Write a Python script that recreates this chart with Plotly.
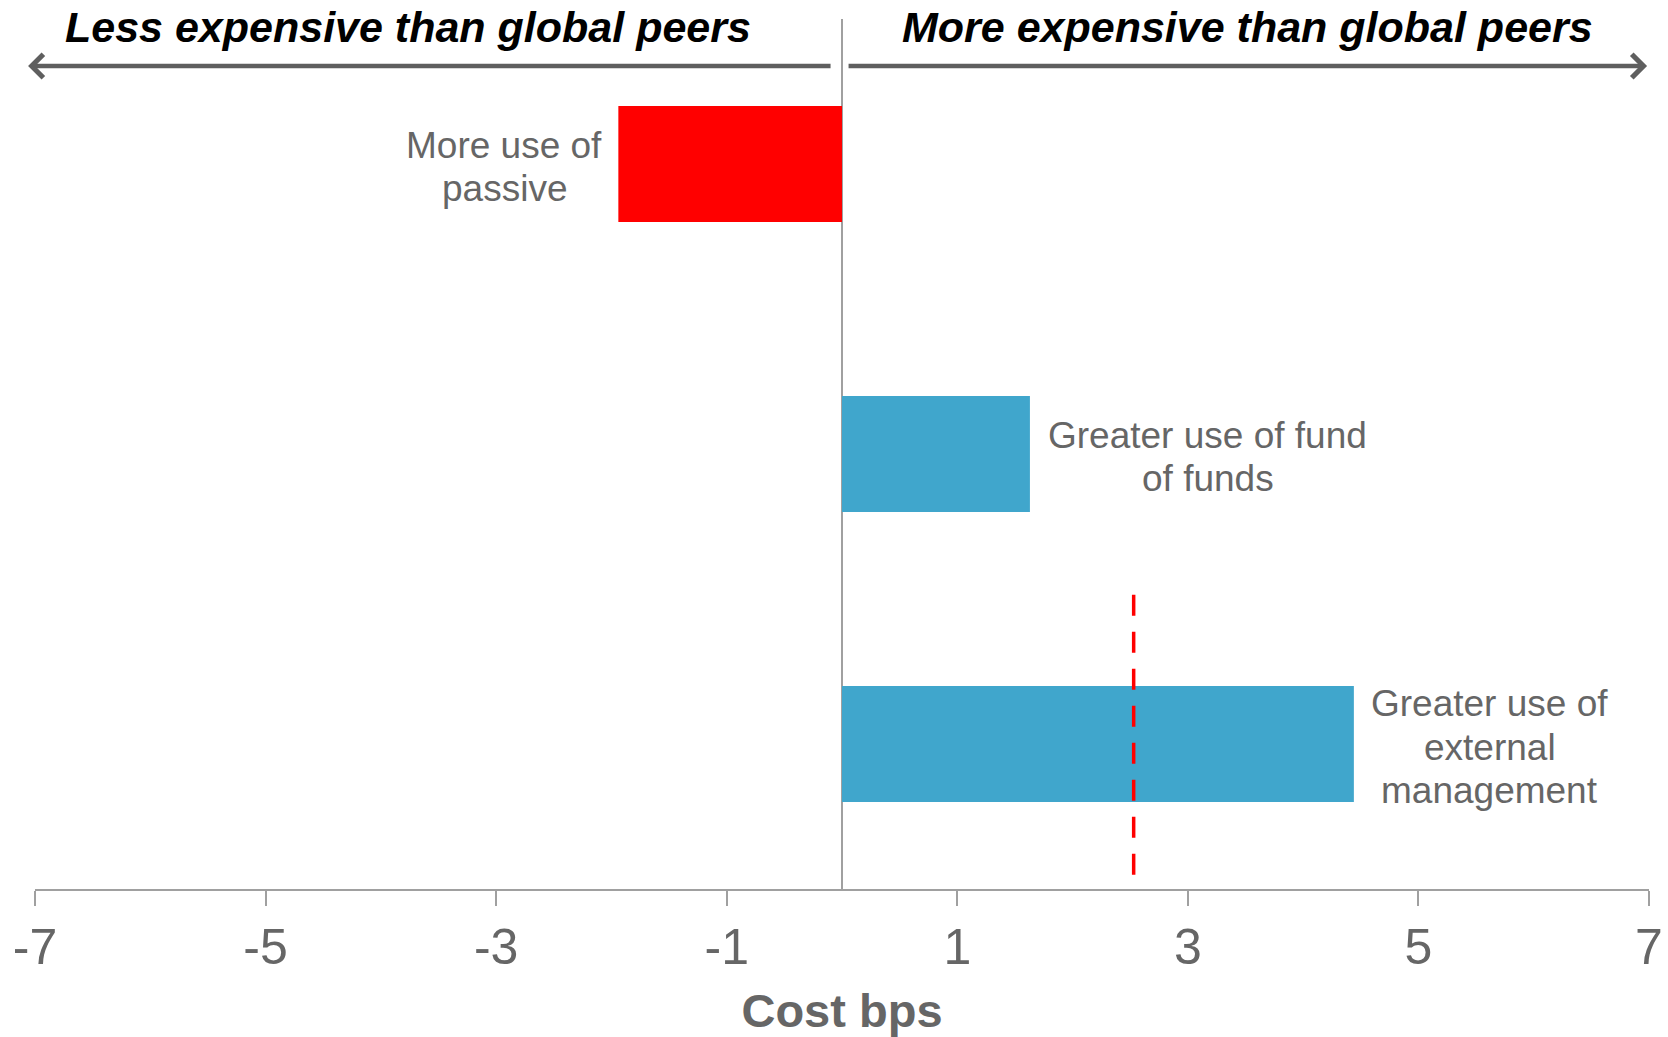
import plotly.graph_objects as go

# --- data -------------------------------------------------------------
categories = [
    "More use of passive",
    "Greater use of fund of funds",
    "Greater use of external management",
]
label_lines = [
    ["More use of", "passive"],
    ["Greater use of fund", "of funds"],
    ["Greater use of", "external", "management"],
]
cost_bps = [-1.94, 1.63, 4.44]
bar_colors = ["#FF0000", "#40A6CC", "#40A6CC"]

reference_bps = 2.53
reference_span = [1.485, 2.47]  # vertical extent in category-index units

tick_vals = [-7, -5, -3, -1, 1, 3, 5, 7]
tick_text = ["-7", "-5", "-3", "-1", "1", "3", "5", "7"]

header_left = "Less expensive than global peers"
header_right = "More expensive than global peers"
axis_title = "Cost bps"

# --- styling ----------------------------------------------------------
FONT = "Liberation Sans, Arial, Helvetica, sans-serif"
GREY_TEXT = "#666666"
GREY_AXIS = "#A0A0A0"
ARROW_GREY = "#5F5F5F"
LABEL_SIZE = 37
LINE_GAP = 43.6            # px between label lines
LABEL_XSHIFT = [-114, 178, 136]  # px from bar end to label centre
LABEL_YSHIFT = -3          # nudge so glyphs sit centred on the bar

fig = go.Figure()

fig.add_trace(
    go.Bar(
        x=cost_bps,
        y=categories,
        orientation="h",
        width=0.4,
        marker=dict(color=bar_colors, line=dict(width=0)),
        hoverinfo="skip",
        showlegend=False,
    )
)

# dashed reference marker
fig.add_shape(
    type="line",
    xref="x", yref="y",
    x0=reference_bps, x1=reference_bps,
    y0=reference_span[0], y1=reference_span[1],
    line=dict(color="#FF0000", width=3.5, dash="21px,16px"),
    layer="above",
)

annotations = []

# category labels beside the bars, one annotation per line
for i, (val, lines) in enumerate(zip(cost_bps, label_lines)):
    n = len(lines)
    for k, txt in enumerate(lines):
        annotations.append(
            dict(
                x=val, y=i, xref="x", yref="y",
                text=txt, showarrow=False,
                xanchor="center", yanchor="middle",
                xshift=LABEL_XSHIFT[i],
                yshift=-(k - (n - 1) / 2) * LINE_GAP + LABEL_YSHIFT,
                font=dict(family=FONT, size=LABEL_SIZE, color=GREY_TEXT),
            )
        )

# direction arrows along the top
arrow_y = 0.946
annotations.append(
    dict(
        x=-0.0043, y=arrow_y, xref="paper", yref="paper",
        ax=804, ay=0, axref="pixel", ayref="pixel",
        text="", showarrow=True, arrowhead=4, arrowsize=1,
        arrowwidth=4.5, arrowcolor=ARROW_GREY,
    )
)
annotations.append(
    dict(
        x=0.9988, y=arrow_y, xref="paper", yref="paper",
        ax=-800, ay=0, axref="pixel", ayref="pixel",
        text="", showarrow=True, arrowhead=4, arrowsize=1,
        arrowwidth=4.5, arrowcolor=ARROW_GREY,
    )
)

# headers above the arrows
for txt, xp in [(header_left, 0.2314), (header_right, 0.751)]:
    annotations.append(
        dict(
            x=xp, y=0.9913, xref="paper", yref="paper",
            text=f"<b><i>{txt}</i></b>", showarrow=False,
            xanchor="center", yanchor="middle",
            font=dict(family=FONT, size=43, color="#000000"),
        )
    )

fig.update_layout(
    width=1668,
    height=1037,
    autosize=False,
    margin=dict(l=35, r=19, t=19, b=148, pad=0, autoexpand=False),
    paper_bgcolor="white",
    plot_bgcolor="white",
    showlegend=False,
    annotations=annotations,
    font=dict(family=FONT, color=GREY_TEXT),
    xaxis=dict(
        range=[-7, 7],
        automargin=False,
        tickmode="array",
        tickvals=tick_vals,
        ticktext=tick_text,
        ticks="outside",
        ticklen=15,
        tickwidth=1.5,
        tickcolor=GREY_AXIS,
        showline=True,
        linecolor=GREY_AXIS,
        linewidth=2,
        showgrid=False,
        zeroline=True,
        zerolinecolor=GREY_AXIS,
        zerolinewidth=1.5,
        tickfont=dict(family=FONT, size=50, color=GREY_TEXT),
        ticklabelstandoff=-2,
        title=dict(
            text=f"<b>{axis_title}</b>",
            font=dict(family=FONT, size=47, color=GREY_TEXT),
            standoff=20,
        ),
        fixedrange=True,
    ),
    yaxis=dict(
        type="category",
        automargin=False,
        categoryorder="array",
        categoryarray=categories,
        range=[2.5, -0.5],
        showticklabels=False,
        showgrid=False,
        zeroline=False,
        showline=False,
        ticks="",
        fixedrange=True,
    ),
)

fig.write_html("out.html")
